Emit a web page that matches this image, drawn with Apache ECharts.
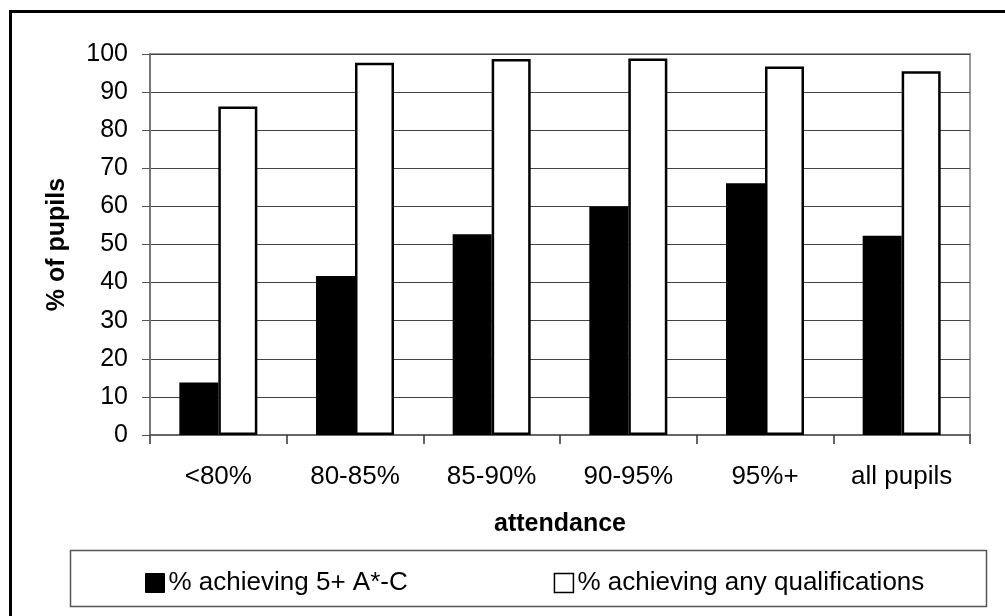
<!DOCTYPE html>
<html>
<head>
<meta charset="utf-8">
<script src="https://cdn.jsdelivr.net/npm/echarts@6/dist/echarts.min.js"></script>
<style>
  html, body { margin: 0; padding: 0; background: #fff; }
  #chart { width: 1005px; height: 616px; }
</style>
</head>
<body>
<div id="chart"></div>
<script>
// Attendance bands and the share of pupils reaching each outcome
const categories = ['<80%', '80-85%', '85-90%', '90-95%', '95%+', 'all pupils'];
const fivePlusAC = [13.8, 41.7, 52.7, 60.0, 66.1, 52.3];
const anyQualifications = [86.2, 97.7, 98.7, 98.8, 96.7, 95.5];
const seriesNames = ['% achieving 5+ A*-C', '% achieving any qualifications'];
const yTicks = { min: 0, max: 100, interval: 10 };

const FONT = '"Liberation Sans", Arial, sans-serif';

const chart = echarts.init(document.getElementById('chart'), null, { renderer: 'canvas' });

chart.setOption({
  animation: false,
  backgroundColor: '#fff',
  textStyle: { fontFamily: FONT },
  grid: {
    left: 150, right: 35, top: 54, bottom: 181,
    show: true, borderColor: '#999', borderWidth: 2, backgroundColor: 'transparent'
  },
  legend: {
    left: 140, top: 565,
    itemWidth: 19, itemHeight: 19, itemGap: 146,
    icon: 'rect',
    textStyle: { fontFamily: FONT, fontSize: 26, color: '#000', padding: [0, 0, 0, -1] },
    data: [
      { name: seriesNames[0], itemStyle: { color: '#000', borderColor: '#000', borderWidth: 1 } },
      { name: seriesNames[1], itemStyle: { color: '#fff', borderColor: '#000', borderWidth: 1.5 } }
    ]
  },
  xAxis: {
    type: 'category',
    data: categories,
    name: 'attendance',
    nameLocation: 'middle',
    nameGap: 77,
    nameTextStyle: { fontFamily: FONT, fontSize: 25, fontWeight: 'bold', color: '#000' },
    axisLine: { lineStyle: { color: '#666', width: 2 } },
    axisTick: { show: true, alignWithLabel: false, length: 9, lineStyle: { color: '#333', width: 1.5 } },
    axisLabel: { fontFamily: FONT, fontSize: 26, color: '#000', margin: 29 },
    splitLine: { show: false }
  },
  yAxis: {
    type: 'value',
    min: yTicks.min, max: yTicks.max, interval: yTicks.interval,
    name: '% of pupils',
    nameLocation: 'middle',
    nameGap: 80,
    nameRotate: 90,
    nameTextStyle: { fontFamily: FONT, fontSize: 25, fontWeight: 'bold', color: '#000' },
    axisLine: { show: true, lineStyle: { color: '#777', width: 2 } },
    axisTick: { show: true, length: 8, lineStyle: { color: '#555', width: 1 } },
    axisLabel: { fontFamily: FONT, fontSize: 25, color: '#000', margin: 22 },
    splitLine: { show: true, lineStyle: { color: '#444', width: 1 } }
  },
  series: [
    {
      name: seriesNames[0],
      type: 'bar',
      data: fivePlusAC,
      barWidth: 39,
      barGap: '0%',
      itemStyle: { color: '#000', borderColor: '#000', borderWidth: 1.5 }
    },
    {
      name: seriesNames[1],
      type: 'bar',
      data: anyQualifications,
      barWidth: 39,
      barGap: '0%',
      itemStyle: { color: '#fff', borderColor: '#000', borderWidth: 2.5 }
    }
  ],
  graphic: [
    {
      type: 'rect',
      shape: { x: 10.5, y: 11.5, width: 1010, height: 620 },
      style: { fill: null, stroke: '#000', lineWidth: 3 },
      silent: true
    },
    {
      type: 'rect',
      shape: { x: 70.5, y: 550.5, width: 916, height: 56 },
      style: { fill: null, stroke: '#555', lineWidth: 1.5 },
      silent: true,
      z: -1
    }
  ]
});
</script>
</body>
</html>
